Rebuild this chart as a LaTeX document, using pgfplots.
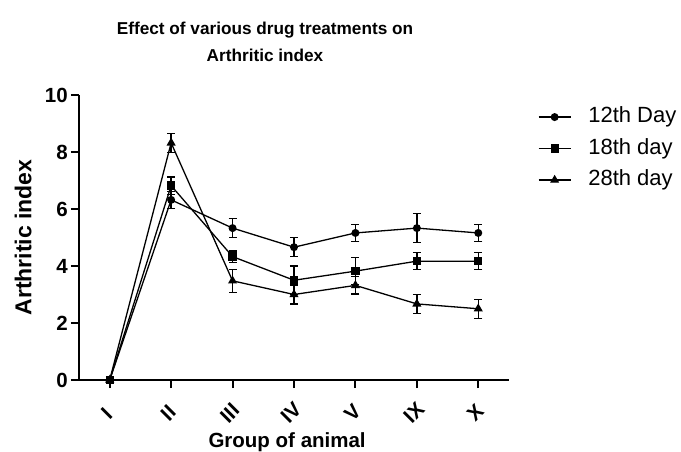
\documentclass[border=0pt]{standalone}
\usepackage{pgfplots}
\pgfplotsset{compat=1.18}
\usepackage{pgfplotstable}
\usepackage{fontspec}
\setmainfont{Liberation Sans}

\pgfplotstableread{
x a ea b eb c ec
0 0 0 0 0 0 0
1 6.32 0.30 6.82 0.30 8.32 0.33
2 5.33 0.33 4.33 0.20 3.48 0.40
3 4.66 0.33 3.50 0.50 3.00 0.33
4 5.16 0.30 3.82 0.48 3.32 0.30
5 5.33 0.50 4.17 0.30 2.67 0.33
6 5.16 0.30 4.17 0.30 2.50 0.33
}\data

\begin{document}
\begin{tikzpicture}
\useasboundingbox (-79pt,-71pt) rectangle (602pt,380pt);
\begin{axis}[
  at={(0pt,0pt)}, anchor=south west,
  scale only axis, width=430pt, height=285pt,
  xmin=-0.5, xmax=6.5, ymin=0, ymax=10,
  axis x line*=bottom, axis y line*=left,
  axis line style={line width=2.2pt, black},
  tick style={line width=2pt, black},
  major tick length=8pt, tick align=outside,
  xtick={0,...,6}, xticklabels={I,II,III,IV,V,IX,X},
  ytick={0,2,...,10},
  clip=false,
  /pgf/number format/assume math mode=true,
  ticklabel style={font=\bfseries\fontsize{20.5}{22}\selectfont},
  yticklabel style={inner sep=0pt, xshift=-3pt},
  xticklabel style={anchor=center, inner sep=0pt, yshift=-25pt, xshift=-3pt, rotate=45},
  title={Effect of various drug treatments on\\Arthritic index},
  title style={at={(axis description cs:0.4326,1.167)}, anchor=center, align=center,
    font=\bfseries\fontsize{17.2}{27}\selectfont},
  ylabel={Arthritic index},
  ylabel style={at={(axis description cs:-0.13,0.5)}, anchor=center,
    font=\bfseries\fontsize{23}{26}\selectfont},
  xlabel={Group of animal},
  xlabel style={at={(axis description cs:0.484,-0.2175)}, anchor=center,
    font=\bfseries\fontsize{20.5}{22}\selectfont},
  legend image code/.code={
    \draw[mark repeat=2, mark phase=2, #1] plot coordinates {(0pt,0pt) (16pt,0pt) (32pt,0pt)};},
  legend style={draw=none, fill=none, at={(axis description cs:1.067,0.812)}, anchor=west,
    inner sep=0pt, row sep=11pt,
    font=\fontsize{22}{24}\selectfont,
    nodes={inner sep=0pt, text height=16pt, text depth=4.5pt}},
  legend cell align=left,
  error bars/error bar style={line width=1.3pt, black},
  error bars/error mark options={line width=1.3pt, black, mark size=4pt, rotate=90},
]
\addplot[black, line width=1.3pt, mark=*, mark size=3.3pt, mark options={solid, fill=black},
  error bars/.cd, y dir=both, y explicit]
  table[x=x, y=a, y error=ea] {\data};
\addlegendentry{\hspace{17pt}12th Day}
\addplot[black, line width=1.3pt, mark=square*, mark size=3.5pt, mark options={solid, fill=black},
  error bars/.cd, y dir=both, y explicit]
  table[x=x, y=b, y error=eb] {\data};
\addlegendentry{\hspace{17pt}18th day}
\addplot[black, line width=1.3pt, mark=triangle*, mark size=4pt, mark options={solid, fill=black},
  error bars/.cd, y dir=both, y explicit]
  table[x=x, y=c, y error=ec] {\data};
\addlegendentry{\hspace{17pt}28th day}
\end{axis}
\end{tikzpicture}
\end{document}
